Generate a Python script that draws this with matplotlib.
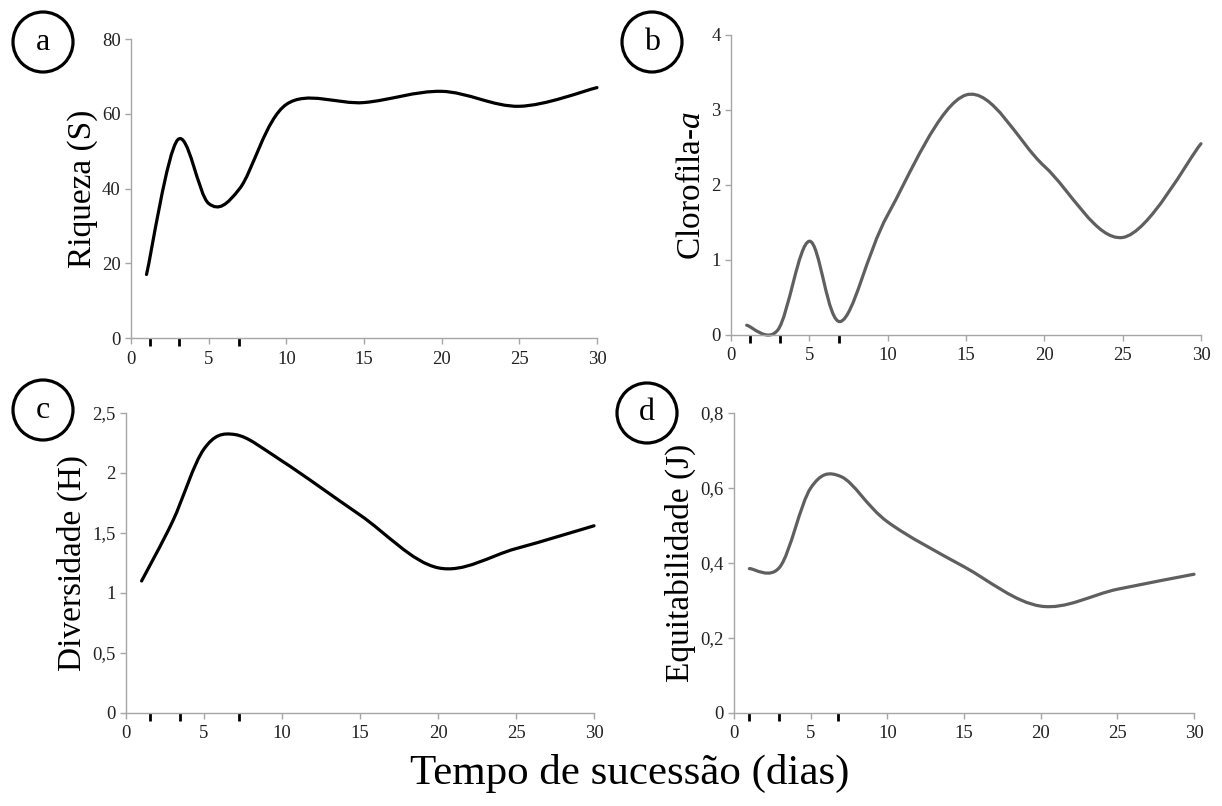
import matplotlib
matplotlib.use("Agg")
import matplotlib.pyplot as plt
from matplotlib.path import Path
from matplotlib.patches import PathPatch, Ellipse

plt.rcParams["font.family"] = ["Liberation Serif", "DejaVu Serif"]
plt.rcParams["mathtext.fontset"] = "custom"
plt.rcParams["mathtext.rm"] = "Liberation Serif"
plt.rcParams["mathtext.it"] = "Liberation Serif:italic"

# dias de amostragem
dias = [1, 3, 5, 7, 10, 15, 20, 25, 30]

# valores
riqueza = [17, 53, 36, 40, 62.5, 63, 66, 62, 67]
clorofila = [0.13, 0.07, 1.25, 0.18, 1.6, 3.2, 2.25, 1.3, 2.55]
diversidade = [1.1, 1.6, 2.2, 2.32, 2.1, 1.65, 1.21, 1.37, 1.56]
equitabilidade = [0.385, 0.39, 0.6, 0.63, 0.51, 0.39, 0.285, 0.33, 0.37]

# marcas pretas extras no eixo x
marcas_a = [1.2, 3.1, 6.95]
marcas_b = [1.2, 3.1, 6.9]
marcas_c = [1.55, 3.45, 7.25]
marcas_d = [1.0, 2.95, 6.75]

rotulos_c = ["0", "0,5", "1", "1,5", "2", "2,5"]
rotulos_d = ["0", "0,2", "0,4", "0,6", "0,8"]


def curva_suave(x, y):
    # spline tipo Excel (Catmull-Rom em Bezier)
    pts = list(zip(x, y))
    verts = [pts[0]]
    codes = [Path.MOVETO]
    n = len(pts)
    for i in range(n - 1):
        p0 = pts[i - 1] if i > 0 else pts[i]
        p1 = pts[i]
        p2 = pts[i + 1]
        p3 = pts[i + 2] if i + 2 < n else pts[i + 1]
        c1 = (p1[0] + (p2[0] - p0[0]) / 6, p1[1] + (p2[1] - p0[1]) / 6)
        c2 = (p2[0] - (p3[0] - p1[0]) / 6, p2[1] - (p3[1] - p1[1]) / 6)
        verts += [c1, c2, p2]
        codes += [Path.CURVE4] * 3
    return Path(verts, codes)


fig = plt.figure(figsize=(12.22, 8.06), dpi=100)

paineis = [
    ([0.1072, 0.5806, 0.3813, 0.371], riqueza, "black", "Riqueza (S)", (0, 80), [0, 20, 40, 60, 80], None, marcas_a, "a", 43, 42),
    ([0.5982, 0.5844, 0.3846, 0.3722], clorofila, "#5f5f5f", "Clorofila-$a$", (0, 4), [0, 1, 2, 3, 4], None, marcas_b, "b", 652, 42),
    ([0.1031, 0.1154, 0.383, 0.3722], diversidade, "black", "Diversidade (H)", (0, 2.5), [0, 0.5, 1, 1.5, 2, 2.5], rotulos_c, marcas_c, "c", 43, 410),
    ([0.6007, 0.1154, 0.3764, 0.3722], equitabilidade, "#5f5f5f", "Equitabilidade (J)", (0, 0.8), [0, 0.2, 0.4, 0.6, 0.8], rotulos_d, marcas_d, "d", 647, 413),
]

for pos, valores, cor, rotulo, ylim, yticks, ylabels, marcas, letra, px, py in paineis:
    ax = fig.add_axes(pos)
    ax.add_patch(PathPatch(curva_suave(dias, valores), facecolor="none", edgecolor=cor,
                           lw=2.3, capstyle="round", joinstyle="round", clip_on=False))
    ax.set_xlim(0, 30)
    ax.set_ylim(*ylim)
    ax.set_xticks([0, 5, 10, 15, 20, 25, 30])
    ax.set_yticks(yticks)
    if ylabels:
        ax.set_yticklabels(ylabels)
    ax.set_xticks(marcas, minor=True)
    for s in ["top", "right"]:
        ax.spines[s].set_visible(False)
    for s in ["left", "bottom"]:
        ax.spines[s].set_color("#a6a6a6")
        ax.spines[s].set_linewidth(1.0)
    ax.tick_params(which="major", direction="out", length=4, width=1, color="#a6a6a6",
                   labelsize=13.5, labelcolor="#222222")
    ax.tick_params(axis="x", which="major", pad=5)
    ax.tick_params(axis="x", which="minor", direction="out", length=6, width=2, color="black")
    ax.set_ylabel(rotulo, fontsize=24, labelpad=3)

    # circulo com a letra do painel
    cx = px / 1222
    cy = 1 - py / 806
    fig.add_artist(Ellipse((cx, cy), 60 / 1222, 60 / 806, transform=fig.transFigure,
                           facecolor="none", edgecolor="black", lw=2.3))
    fig.text(cx, cy, letra, ha="center", va="center", fontsize=23)

fig.text(0.515, 0.04, "Tempo de sucessão (dias)", ha="center", va="center", fontsize=31)

fig.savefig("out.png", dpi=100)
